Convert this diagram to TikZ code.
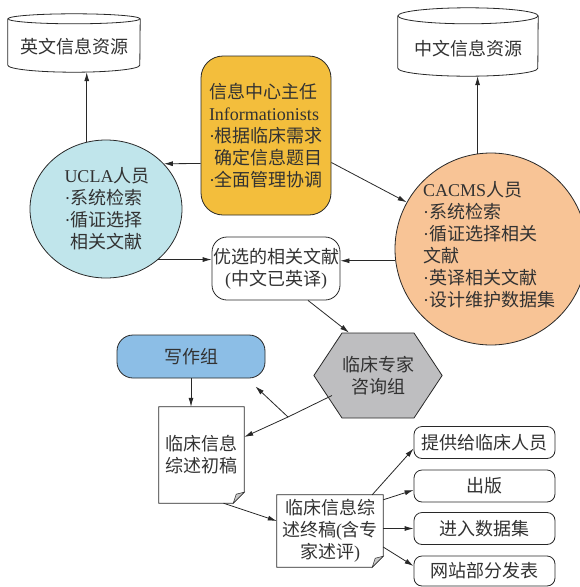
\documentclass[tikz,border=0pt]{standalone}
\usepackage{fontspec}
\setmainfont{Liberation Serif}
\newfontfamily\cjk{Noto Sans CJK SC}
\usepackage{tikz}
\usetikzlibrary{shapes.geometric,shapes.symbols,arrows.meta}
\definecolor{txt}{RGB}{50,50,50}
\definecolor{line}{RGB}{40,40,40}
\definecolor{dirfill}{RGB}{243,190,60}
\definecolor{uclafill}{RGB}{192,229,235}
\definecolor{cacmsfill}{RGB}{248,196,150}
\definecolor{writefill}{RGB}{140,190,230}
\definecolor{hexfill}{RGB}{190,190,192}
\definecolor{foldfill}{RGB}{200,200,200}
\newcommand{\en}[1]{{\rmfamily #1}}

\begin{document}
\begin{tikzpicture}[x=1pt,y=-1pt,
		every node/.style={font=\cjk\fontsize{18}{22}\selectfont, text=txt, inner sep=0pt},
		arr/.style={-{Latex[length=9pt,width=5pt]}, draw=line, line width=0.8pt},
		wire/.style={draw=line, line width=0.8pt},
		box/.style={wire, fill=white, rounded corners=8pt, minimum width=141pt, minimum height=32pt},
		res/.style={minimum width=#1, align=center},
		doc/.style={align=center},
		person/.style={wire, ellipse}]
	\useasboundingbox (0,0) rectangle (580,587);

	% sources
	\node[res=132pt, minimum height=58pt] (enres) at (74,43) {};
	\node[res=140pt, minimum height=68pt] (zhres) at (468,42) {};
	\foreach \c/\rx/\ry/\by in {enres/66/5/7, zhres/70/8/8} {
		\draw[wire, fill=white] ([yshift=-\ry pt]\c.north west) -- ([yshift=\by pt]\c.south west)
			arc[start angle=180, end angle=360, x radius=\rx pt, y radius=\by pt]
			-- ([yshift=-\ry pt]\c.north east);
		\draw[wire] ([yshift=-\ry pt]\c.north) ellipse [x radius=\rx pt, y radius=\ry pt];
	}
	\node at ([yshift=-4pt]enres.center) {英文信息资源};
	\node at ([yshift=-7pt]zhres.center) {中文信息资源};

	% people
	\node[wire, fill=dirfill, rounded corners=22pt, minimum width=130pt, minimum height=159pt, align=left] (director) at (266,135.5)
		{信息中心主任\\ \en{Informationists}\\ \en{·}根据临床需求\\ \en{\phantom{·}}确定信息题目\\ \en{·}全面管理协调};
	\node[person, fill=uclafill, minimum width=152pt, minimum height=138pt] (ucla) at (106,209) {};
	\node[align=left] at (107,209) {\en{UCLA}人员\\ \en{·}系统检索\\ \en{·}循证选择\\ \en{\phantom{·}}相关文献};
	\node[person, fill=cacmsfill, minimum width=192pt, minimum height=192pt] (cacms) at (491,249) {};
	\node[align=left] at (489,245) {\en{CACMS}人员\\ \en{·}系统检索\\ \en{·}循证选择相关\\ 文献\\ \en{·}英译相关文献\\ \en{·}设计维护数据集};

	% middle
	\node[wire, fill=white, rounded corners=15pt, minimum width=128pt, minimum height=63pt, align=center] (selected) at (276,268.5)
		{优选的相关文献\\ \en{(}中文已英译\en{)}};
	\node[wire, fill=writefill, rounded corners=16pt, minimum width=148pt, minimum height=43pt] (writers) at (191,356.5) {写作组};
	\node[wire, fill=hexfill, signal, signal to=west and east, signal pointer angle=113,
		minimum width=114pt, minimum height=85pt, align=center] (experts) at (378,375.5) {临床专家\\ 咨询组};

	% drafts
	\node[doc, minimum width=85pt, minimum height=96pt] (draft) at (201.5,455) {临床信息\\ 综述初稿};
	\node[doc, minimum width=106pt, minimum height=72pt] (final) at (330,531) {临床信息综\\ 述终稿\en{(}含专\\ 家述评\en{)}};
	\foreach \d in {draft,final} {
		\draw[wire] (\d.north west) -- (\d.north east) -- ([yshift=11pt]\d.south east)
			-- ([xshift=-11pt]\d.south east) -- (\d.south west) -- cycle;
		\draw[wire, fill=foldfill, line width=0.5pt] ([yshift=11pt]\d.south east) -- ([xshift=-11pt]\d.south east)
			-- ([shift={(-8pt,9pt)}]\d.south east) -- cycle;
	}

	% outputs
	\node[box] (clin) at (484.5,442.5) {提供给临床人员};
	\node[box] (pub) at (484.5,486) {出版};
	\node[box] (db) at (484.5,528.5) {进入数据集};
	\node[box, minimum height=30pt] (web) at (484.5,571) {网站部分发表};

	% connectors
	\draw[arr] (ucla.106) -- (ucla.106 |- enres.south);
	\draw[arr] (cacms.98) -- (cacms.98 |- zhres.south);
	\draw[arr] ([yshift=-28pt]director.west) -- (ucla.38);
	\draw[arr] ([yshift=-27pt]director.east) -- (cacms.151);
	\draw[arr] (ucla.-44) -- (ucla.-44 -| selected.west);
	\draw[arr] (cacms.187) -- (cacms.187 -| selected.east);
	\draw[arr] ([xshift=32pt]selected.south) -- ([xshift=-29pt]experts.north);
	\draw[arr] (writers.south) -- (writers.south |- draft.north);
	\coordinate (fork) at (288,417);
	\draw[wire] ([shift={(-46pt,-20pt)}]experts.center) -- (fork);
	\draw[arr] (fork) -- ([shift={(-10pt,-8pt)}]writers.south east);
	\draw[arr] (fork) -- ([yshift=18pt]draft.east);
	\draw[arr] ([xshift=22pt]draft.south) -- ([yshift=10pt]final.west);
	\draw[arr] ([xshift=-11pt]final.north east) -- ([yshift=-6pt]clin.west);
	\draw[arr] ([yshift=-5pt]final.north east) -- ([yshift=-4pt]pub.west);
	\draw[arr] (db.west -| final.east) -- (db.west);
	\draw[arr] ([yshift=-16pt]final.east) -- ([yshift=5pt]web.west);
\end{tikzpicture}
\end{document}
